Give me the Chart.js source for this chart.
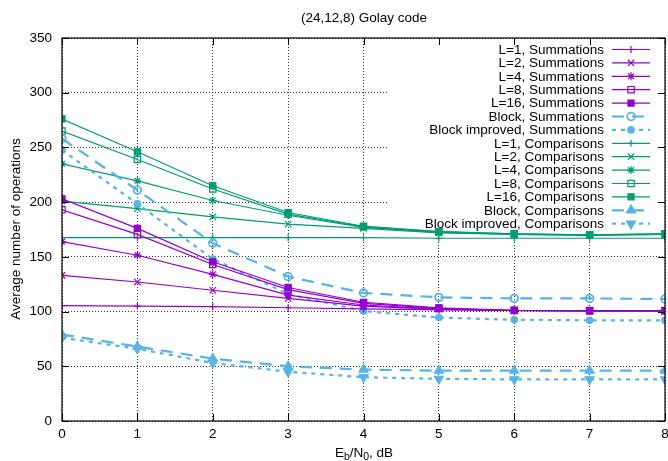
<!DOCTYPE html>
<html>
<head>
<meta charset="utf-8">
<script src="https://cdn.jsdelivr.net/npm/chart.js@4/dist/chart.umd.min.js"></script>
<style>
  html, body { margin: 0; padding: 0; overflow: hidden; background: #fff; }
  #wrap { width: 690px; height: 461px; }
</style>
</head>
<body>
<div id="wrap"><canvas id="chart" width="690" height="461"></canvas></div>
<script>
// ---------------------------------------------------------------------------
// Data
// ---------------------------------------------------------------------------

const ebn0 = [0, 1, 2, 3, 4, 5, 6, 7, 8];
const yTicks = [0, 50, 100, 150, 200, 250, 300, 350];

const sumL1  = [105.5, 105, 104.5, 103.5, 102.5, 101.5, 101, 100.5, 100.5];
const sumL2  = [133, 127, 119.5, 112, 105, 102, 101, 100.5, 100.5];
const sumL4  = [164, 151.5, 134, 115, 106, 102.5, 101, 100.5, 100.5];
const sumL8  = [193, 170.5, 143, 120, 107.5, 103, 101, 100.5, 100.5];
const sumL16 = [203, 176, 145.5, 122, 108.5, 103.3, 101.2, 101, 101];
const sumBlock    = [258, 211, 162.5, 132, 117, 113, 112, 112, 111.5];
const sumBlockImp = [247.5, 198.5, 148, 116, 100.5, 94.5, 92.5, 92, 92];

const cmpL1  = [167.5, 167.5, 167.5, 167.5, 167.5, 167, 167, 167, 167];
const cmpL2  = [201, 194, 186.5, 180, 176, 172, 170.5, 169.5, 170.5];
const cmpL4  = [235, 219.5, 201.5, 188, 177, 172.5, 170.5, 170, 170.5];
const cmpL8  = [265, 239, 212, 189, 177.5, 173, 171, 170, 171];
const cmpL16 = [276, 246, 215, 190.5, 178, 173, 171, 170, 171];
const cmpBlock    = [79, 68, 57, 50, 47, 46, 46, 46, 46];
const cmpBlockImp = [76, 66, 53, 45, 40, 38.5, 38, 38, 38];

// ---------------------------------------------------------------------------
// Styling
// ---------------------------------------------------------------------------

const PURPLE = '#9400d3';
const GREEN = '#009e73';
const BLUE = '#56b4e9';
const FONT = '"Liberation Sans", Arial, Helvetica, sans-serif';
const FS = 13.5;

const DASH_BLOCK = [12, 8];
const DASH_IMPROVED = [4, 5];

function series(label, data, color, marker, extra) {
  const m = Object.assign({ style: 'circle', r: 4, fill: true, rot: 0 }, marker);
  return Object.assign({
    label,
    data: data.map((v, i) => ({ x: ebn0[i], y: v })),
    borderColor: color,
    borderWidth: 1.2,
    borderDash: [],
    pointStyle: m.style,
    pointRadius: m.r,
    pointRotation: m.rot,
    pointBorderColor: color,
    pointBackgroundColor: m.fill ? color : 'rgba(0,0,0,0)',
    pointBorderWidth: 1.2,
    tension: 0,
    fill: false,
  }, extra || {});
}

const datasets = [
  series('L=1, Summations',  sumL1,  PURPLE, { style: 'cross', r: 3.5 }),
  series('L=2, Summations',  sumL2,  PURPLE, { style: 'crossRot', r: 4.5 }),
  series('L=4, Summations',  sumL4,  PURPLE, { style: 'star', r: 4 }),
  series('L=8, Summations',  sumL8,  PURPLE, { style: 'rect', r: 4.5, fill: false }),
  series('L=16, Summations', sumL16, PURPLE, { style: 'rect', r: 4.3 }),
  series('Block, Summations', sumBlock, BLUE, { style: 'circle', r: 3.8, fill: false },
         { borderWidth: 2.2, borderDash: DASH_BLOCK, pointBorderWidth: 1.8 }),
  series('Block improved, Summations', sumBlockImp, BLUE, { style: 'circle', r: 3.2 },
         { borderWidth: 2.2, borderDash: DASH_IMPROVED }),
  series('L=1, Comparisons',  cmpL1,  GREEN, { style: 'cross', r: 3.5 }),
  series('L=2, Comparisons',  cmpL2,  GREEN, { style: 'crossRot', r: 4.5 }),
  series('L=4, Comparisons',  cmpL4,  GREEN, { style: 'star', r: 4 }),
  series('L=8, Comparisons',  cmpL8,  GREEN, { style: 'rect', r: 4.5, fill: false }),
  series('L=16, Comparisons', cmpL16, GREEN, { style: 'rect', r: 4.3 }),
  series('Block, Comparisons', cmpBlock, BLUE, { style: 'triangle', r: 5.2 },
         { borderWidth: 2.2, borderDash: DASH_BLOCK }),
  series('Block improved, Comparisons', cmpBlockImp, BLUE, { style: 'triangle', r: 5.2, rot: 180 },
         { borderWidth: 2.2, borderDash: DASH_IMPROVED }),
];

// ---------------------------------------------------------------------------
// gnuplot-like frame: opaque key box, border, inward ticks, titles, key
// ---------------------------------------------------------------------------

const KEY = { left: 388, bottom: 230, textRight: 604, lineX0: 612, lineX1: 650, y0: 49.5, dy: 13.4 };

const gnuplotFrame = {
  id: 'gnuplotFrame',
  beforeDatasetsDraw(chart) {
    const { ctx, chartArea: a } = chart;
    ctx.save();
    ctx.fillStyle = '#fff';
    ctx.fillRect(KEY.left, a.top + 1, a.right - KEY.left - 1, KEY.bottom - a.top);
    ctx.restore();
  },
  afterDraw(chart) {
    const { ctx, chartArea: a, scales } = chart;
    const xs = scales.x, ys = scales.y;
    ctx.save();

    // border
    ctx.strokeStyle = '#000';
    ctx.lineWidth = 1.2;
    ctx.setLineDash([]);
    ctx.strokeRect(a.left, a.top, a.right - a.left, a.bottom - a.top);

    // inward ticks on all four sides
    const tl = 7;
    ctx.lineWidth = 1;
    ctx.beginPath();
    ebn0.forEach(v => {
      const px = Math.round(xs.getPixelForValue(v)) + 0.5;
      ctx.moveTo(px, a.bottom); ctx.lineTo(px, a.bottom - tl);
      ctx.moveTo(px, a.top); ctx.lineTo(px, a.top + tl);
    });
    yTicks.forEach(v => {
      const py = Math.round(ys.getPixelForValue(v)) + 0.5;
      ctx.moveTo(a.left, py); ctx.lineTo(a.left + tl, py);
      ctx.moveTo(a.right, py); ctx.lineTo(a.right - tl, py);
    });
    ctx.stroke();

    // titles
    ctx.fillStyle = '#000';
    ctx.font = FS + 'px ' + FONT;
    ctx.textAlign = 'center';
    ctx.textBaseline = 'alphabetic';
    ctx.fillText('(24,12,8) Golay code', 364, 22);

    ctx.save();
    ctx.translate(20, 229);
    ctx.rotate(-Math.PI / 2);
    ctx.fillText('Average number of operations', 0, 0);
    ctx.restore();

    // x title with subscripts: E_b/N_0, dB
    const parts = [['E', 0], ['b', 1], ['/N', 0], ['0', 1], [', dB', 0]];
    const widthOf = p => {
      ctx.font = (p[1] ? '10.5px ' : FS + 'px ') + FONT;
      return ctx.measureText(p[0]).width;
    };
    const total = parts.reduce((s, p) => s + widthOf(p), 0);
    let cx = 364 - total / 2;
    ctx.textAlign = 'left';
    parts.forEach(p => {
      const w = widthOf(p);
      ctx.fillText(p[0], cx, p[1] ? 459.5 : 456.5);
      cx += w;
    });

    // key
    ctx.font = FS + 'px ' + FONT;
    ctx.textAlign = 'right';
    ctx.textBaseline = 'middle';
    chart.data.datasets.forEach((ds, i) => {
      const y = KEY.y0 + i * KEY.dy;
      ctx.fillStyle = '#000';
      ctx.fillText(ds.label, KEY.textRight, y + 0.5);
      ctx.strokeStyle = ds.borderColor;
      ctx.lineWidth = ds.borderWidth;
      ctx.setLineDash(ds.borderDash);
      ctx.beginPath();
      ctx.moveTo(KEY.lineX0, y);
      ctx.lineTo(KEY.lineX1, y);
      ctx.stroke();
      ctx.setLineDash([]);
      if (Chart.helpers && Chart.helpers.drawPoint) {
        ctx.fillStyle = ds.pointBackgroundColor;
        ctx.strokeStyle = ds.pointBorderColor;
        ctx.lineWidth = ds.pointBorderWidth;
        Chart.helpers.drawPoint(ctx, {
          pointStyle: ds.pointStyle, radius: ds.pointRadius,
          rotation: ds.pointRotation, borderWidth: ds.pointBorderWidth,
        }, (KEY.lineX0 + KEY.lineX1) / 2, y);
      }
    });
    ctx.restore();
  }
};

// ---------------------------------------------------------------------------
// Chart
// ---------------------------------------------------------------------------

new Chart(document.getElementById('chart').getContext('2d'), {
  type: 'line',
  data: { datasets },
  plugins: [gnuplotFrame],
  options: {
    responsive: false,
    animation: false,
    events: [],
    layout: { padding: { top: 38, right: 25, left: 0, bottom: 0 } },
    plugins: { legend: { display: false }, title: { display: false }, tooltip: { enabled: false } },
    scales: {
      x: {
        type: 'linear', min: 0, max: 8,
        afterFit(scale) { scale.height = 40; },
        afterBuildTicks(scale) { scale.ticks = ebn0.map(v => ({ value: v })); },
        ticks: { color: '#000', font: { family: FONT, size: FS }, padding: 5, maxRotation: 0 },
        grid: { color: '#333', lineWidth: 1, drawTicks: false },
        border: { display: false, dash: [1, 2] },
      },
      y: {
        type: 'linear', min: 0, max: 350,
        afterFit(scale) { scale.width = 62; },
        afterBuildTicks(scale) { scale.ticks = yTicks.map(v => ({ value: v })); },
        ticks: { color: '#000', font: { family: FONT, size: FS }, padding: 10 },
        grid: { color: '#333', lineWidth: 1, drawTicks: false },
        border: { display: false, dash: [1, 2] },
      },
    },
  },
});
</script>
</body>
</html>
